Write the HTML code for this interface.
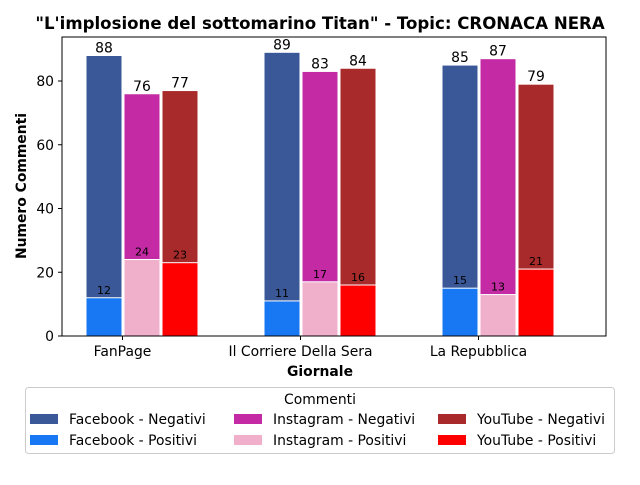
<!DOCTYPE html>
<html><head><meta charset="utf-8"><style>
body{margin:0;background:#fff;font-family:"Liberation Sans","DejaVu Sans",sans-serif}
</style></head><body>
<svg id="chart" width="640" height="480" xmlns="http://www.w3.org/2000/svg" font-family="DejaVu Sans, Liberation Sans, sans-serif">
<text x="320" y="29" text-anchor="middle" font-size="16.6" font-weight="bold">"L'implosione del sottomarino Titan" - Topic: CRONACA NERA</text>
<g id="plot"></g>
<rect x="62" y="37" width="544" height="299" fill="none" stroke="#000" stroke-width="1"/>
<text transform="translate(26,186) rotate(-90)" text-anchor="middle" font-size="13.9" font-weight="bold">Numero Commenti</text>
<text x="320" y="376" text-anchor="middle" font-size="13.9" font-weight="bold">Giornale</text>
<g id="legend">
<rect x="25.5" y="387.5" width="589" height="66" fill="#fff" stroke="#ccc" rx="3"/>
<text x="320" y="404" text-anchor="middle" font-size="13.9">Commenti</text>
</g>
</svg>
<script>
const categories=["FanPage","Il Corriere Della Sera","La Repubblica"];
const seriesNames=["Facebook","Instagram","YouTube"];
const negColors=["#3a5898","#c32aa3","#a82a2a"];
const posColors=["#1877f2","#f0b0cc","#ff0000"];
const fbNeg=[88,89,85], igNeg=[76,83,87], ytNeg=[77,84,79];
const fbPos=[12,11,15], igPos=[24,17,13], ytPos=[23,16,21];
const yTicks=[0,20,40,60,80];
const neg=[fbNeg,igNeg,ytNeg], pos=[fbPos,igPos,ytPos];
const NS="http://www.w3.org/2000/svg";
const plot=document.getElementById('plot');
const y0=336, ppu=255/80;
function yS(v){return y0-v*ppu;}
function xS(i,s){return 86+i*178+s*38;}
function mk(tag,attrs,parent){const e=document.createElementNS(NS,tag);for(const k in attrs)e.setAttribute(k,attrs[k]);(parent||plot).appendChild(e);return e;}
yTicks.forEach(t=>{
 const l=mk('line',{x1:58,x2:62,y1:yS(t),y2:yS(t),stroke:'#000'});
 
 
 const tx=mk('text',{x:54,y:yS(t)+5,'text-anchor':'end','font-size':13.9});
 
 
 tx.textContent=t;
});
categories.forEach((c,i)=>{
 const tx0=xS(i,0)+36.5;
 const l=mk('line',{x1:tx0,x2:tx0,y1:336,y2:340,stroke:'#000'});
 
 
 const t=mk('text',{x:tx0,y:356,'text-anchor':'middle','font-size':13.9});
 
 
 t.textContent=c;
 for(let s=0;s<3;s++){
  const x=xS(i,s),w=36;
  const nv=neg[s][i],pv=pos[s][i];
  const r1=mk('rect',{x:x,y:yS(nv),width:w,height:nv*ppu,fill:negColors[s],stroke:'#fff','stroke-width':1});
  
  
  const r2=mk('rect',{x:x,y:yS(pv),width:w,height:pv*ppu,fill:posColors[s],stroke:'#fff','stroke-width':1});
  
  
  const a=mk('text',{x:x+w/2,y:yS(nv)-3,'text-anchor':'middle','font-size':13.9});
  
  
  a.textContent=nv;
  const b=mk('text',{x:x+w/2,y:yS(pv)-4,'text-anchor':'middle','font-size':11});
  
  
  b.textContent=pv;
 }
});
const lg=document.getElementById('legend');
const colX=[30,234,438];
for(let s=0;s<3;s++){
 [[negColors[s],' - Negativi',414],[posColors[s],' - Positivi',435]].forEach(([col,suf,yy])=>{
  const r=mk('rect',{x:colX[s],y:yy,width:28,height:10,fill:col},lg);
  
  
  const t=mk('text',{x:colX[s]+39,y:yy+10,'font-size':13.9},lg);
  
  
  t.textContent=seriesNames[s]+suf;
 });
}
</script>
</body></html>
